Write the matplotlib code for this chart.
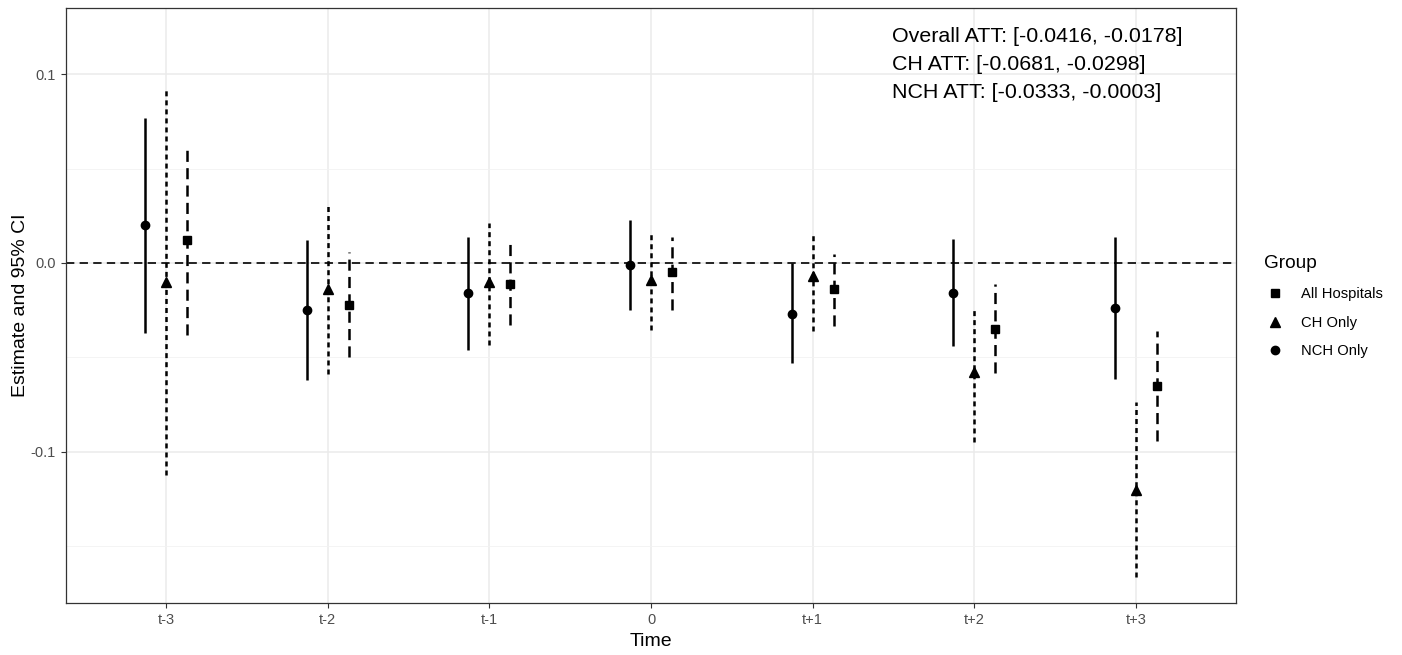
import matplotlib
matplotlib.use("Agg")
import matplotlib.pyplot as plt
from matplotlib.lines import Line2D
import numpy as np

plt.rcParams["font.family"] = ["Liberation Sans", "DejaVu Sans"]
plt.rcParams["lines.scale_dashes"] = False

times = ["t-3", "t-2", "t-1", "0", "t+1", "t+2", "t+3"]

# NCH Only
nch_est = [0.020, -0.025, -0.016, -0.001, -0.027, -0.016, -0.024]
nch_lo = [-0.037, -0.062, -0.046, -0.025, -0.053, -0.044, -0.0615]
nch_hi = [0.077, 0.012, 0.014, 0.023, 0.000, 0.0125, 0.014]

# CH Only
ch_est = [-0.010, -0.014, -0.010, -0.009, -0.007, -0.0575, -0.120]
ch_lo = [-0.112, -0.059, -0.0435, -0.0355, -0.036, -0.0945, -0.166]
ch_hi = [0.0915, 0.030, 0.021, 0.0165, 0.0165, -0.024, -0.0735]

# All Hospitals
all_est = [0.012, -0.022, -0.011, -0.005, -0.014, -0.035, -0.065]
all_lo = [-0.038, -0.050, -0.033, -0.025, -0.0335, -0.058, -0.094]
all_hi = [0.061, 0.006, 0.010, 0.014, 0.005, -0.011, -0.036]

att_text = [
    "Overall ATT: [-0.0416, -0.0178]",
    "CH ATT: [-0.0681, -0.0298]",
    "NCH ATT: [-0.0333, -0.0003]",
]

groups = [
    ("NCH Only", nch_est, nch_lo, nch_hi, -0.13, "o", 6.0, "-"),
    ("CH Only", ch_est, ch_lo, ch_hi, 0.0, "^", 6.5, (0, (3.6, 2.9))),
    ("All Hospitals", all_est, all_lo, all_hi, 0.13, "s", 5.8, (0, (8, 4.5))),
]

fig = plt.figure(figsize=(14.02, 6.55), dpi=100)
ax = fig.add_axes([66 / 1402, 52 / 655, 1170 / 1402, 595 / 655])

x = np.arange(1, len(times) + 1)

for name, est, lo, hi, off, mk, ms, ls in groups:
    xs = x + off
    ax.vlines(xs, lo, hi, colors="black", linewidth=1.8, linestyles=[ls])
    ax.plot(xs, est, linestyle="none", marker=mk, markersize=ms,
            color="black", zorder=4)

ax.axhline(0, color="black", linewidth=1.2, linestyle=(0, (6, 3.8)), zorder=1)

ax.set_xlim(0.38, 7.62)
ax.set_ylim(-0.18, 0.135)
ax.set_xticks(x)
ax.set_xticklabels(times)
ax.set_yticks([-0.1, 0.0, 0.1])
ax.set_yticklabels(["-0.1", "0.0", "0.1"])
ax.set_yticks([-0.15, -0.05, 0.05], minor=True)

ax.grid(which="major", color="#EBEBEB", linewidth=1.1, zorder=0)
ax.grid(which="minor", axis="y", color="#F2F2F2", linewidth=0.6, zorder=0)
ax.set_axisbelow(True)
ax.tick_params(axis="both", which="major", length=3.5, width=0.8,
               color="#333333", labelcolor="#4D4D4D", labelsize=10.5, pad=4)
ax.tick_params(axis="y", which="minor", length=0)
for sp in ax.spines.values():
    sp.set_color("#333333")
    sp.set_linewidth(0.9)

ax.set_xlabel("Time", fontsize=14, labelpad=4)
ax.set_ylabel("Estimate and 95% CI", fontsize=14, labelpad=1)

for i, t in enumerate(att_text):
    ax.text(0.706, 0.952 - i * 0.047, t, transform=ax.transAxes,
            fontsize=15.4, va="center", ha="left")

handles = [
    Line2D([], [], linestyle="none", marker="s", markersize=5.8, color="black"),
    Line2D([], [], linestyle="none", marker="^", markersize=6.5, color="black"),
    Line2D([], [], linestyle="none", marker="o", markersize=6.0, color="black"),
]
leg = fig.legend(handles, ["All Hospitals", "CH Only", "NCH Only"],
                 title="Group", loc="upper left",
                 bbox_to_anchor=(1251 / 1402, 1 - 242 / 655),
                 frameon=False, fontsize=10.6, title_fontsize=13.7,
                 handletextpad=1.1, labelspacing=1.0, handlelength=1.4)
leg._legend_box.align = "left"

fig.savefig("out.png", dpi=100)
